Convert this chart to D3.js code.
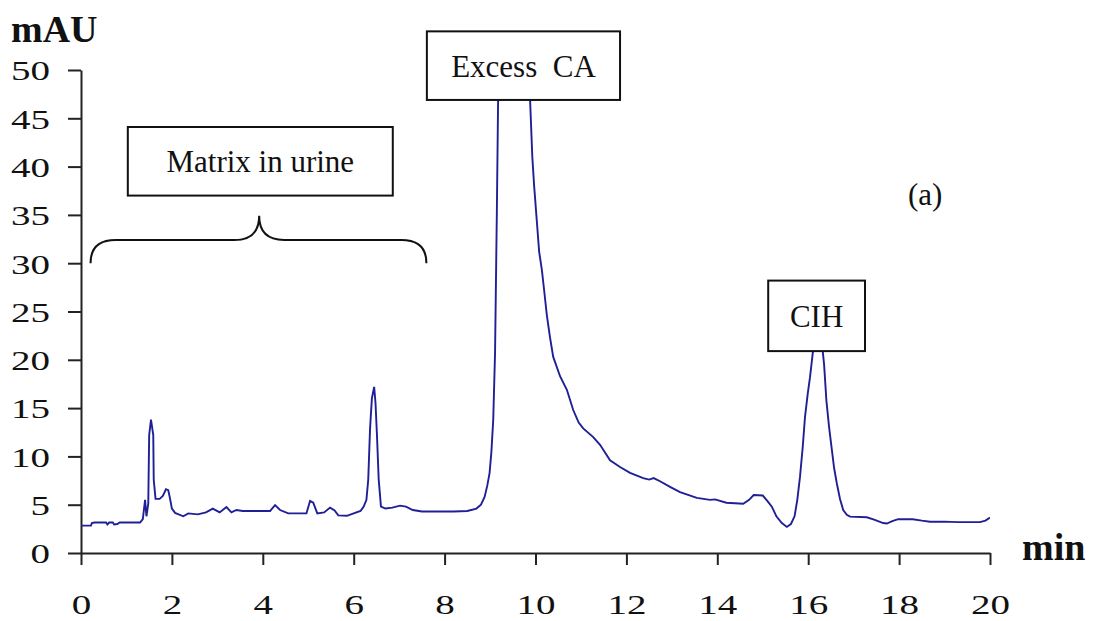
<!DOCTYPE html>
<html>
<head>
<meta charset="utf-8">
<script src="https://cdn.jsdelivr.net/npm/d3@7"></script>
<style>
  body { margin: 0; background: #fff; }
  svg { display: block; font-family: "Liberation Serif", "Times New Roman", serif; }
  .pre { white-space: pre; }
</style>
</head>
<body>
<div id="chart"></div>
<script>
// retention time (min) and absorbance (mAU)
const times = [
  0.00, 0.22, 0.24, 0.30, 0.55, 0.58, 0.62, 0.70, 0.73, 0.80, 0.85, 1.30, 1.36, 1.41, 1.44, 1.48,
  1.50, 1.54, 1.59, 1.60, 1.64, 1.73, 1.80, 1.87, 1.92, 1.96, 2.00, 2.07, 2.25, 2.36, 2.57, 2.75,
  2.90, 3.05, 3.20, 3.31, 3.42, 3.56, 4.16, 4.27, 4.38, 4.56, 4.96, 5.04, 5.11, 5.20, 5.35, 5.48,
  5.58, 5.66, 5.85, 6.00, 6.15, 6.22, 6.28, 6.32, 6.36, 6.40, 6.45, 6.48, 6.51, 6.55, 6.60, 6.70,
  6.85, 7.02, 7.15, 7.30, 7.50, 8.20, 8.50, 8.70, 8.80, 8.88, 8.94, 8.99, 9.03, 9.07, 9.11, 9.15,
  9.18, 9.22, 9.50, 9.84, 9.88, 9.93, 9.97, 10.03, 10.08, 10.14, 10.19, 10.25, 10.32, 10.39, 10.54, 10.69,
  10.83, 10.95, 11.05, 11.27, 11.42, 11.64, 11.86, 12.08, 12.37, 12.50, 12.60, 12.75, 12.96, 13.18, 13.55, 13.84,
  13.95, 14.20, 14.57, 14.70, 14.80, 15.00, 15.10, 15.20, 15.30, 15.42, 15.53, 15.62, 15.70, 15.76, 15.82, 15.88,
  15.93, 15.99, 16.04, 16.10, 16.16, 16.22, 16.30, 16.35, 16.40, 16.46, 16.52, 16.57, 16.63, 16.70, 16.77, 16.85,
  16.92, 17.29, 17.45, 17.65, 17.73, 17.85, 17.98, 18.30, 18.50, 18.68, 19.00, 19.30, 19.78, 19.90, 20.00
];
const absorbance = [
  2.83, 2.83, 3.10, 3.15, 3.15, 2.95, 3.15, 3.15, 2.95, 3.00, 3.15, 3.15, 3.50, 5.50, 3.80, 5.10,
  12.2, 13.8, 12.2, 7.60, 5.60, 5.60, 5.90, 6.60, 6.50, 5.60, 4.60, 4.15, 3.80, 4.10, 4.00, 4.20,
  4.60, 4.20, 4.75, 4.20, 4.45, 4.35, 4.35, 4.95, 4.45, 4.10, 4.10, 5.40, 5.20, 4.10, 4.20, 4.70,
  4.40, 3.90, 3.85, 4.10, 4.35, 4.80, 5.50, 7.60, 12.9, 16.0, 17.2, 15.5, 12.4, 7.60, 4.80, 4.60,
  4.70, 4.90, 4.80, 4.45, 4.30, 4.30, 4.35, 4.60, 5.00, 5.80, 7.00, 8.30, 10.5, 13.8, 20.7, 35.5,
  48.0, 65.0, 85.0, 60.0, 47.0, 41.0, 38.0, 34.3, 31.2, 29.3, 27.2, 24.6, 22.3, 20.3, 18.3, 16.9,
  14.8, 13.5, 12.9, 12.0, 11.2, 9.60, 8.90, 8.30, 7.75, 7.60, 7.75, 7.40, 6.85, 6.30, 5.70, 5.50,
  5.55, 5.20, 5.10, 5.50, 6.00, 5.95, 5.40, 4.80, 3.80, 3.10, 2.70, 3.00, 3.80, 5.50, 7.90, 11.0,
  14.1, 16.5, 18.2, 20.7, 22.5, 23.0, 21.8, 19.5, 15.8, 13.0, 10.7, 8.80, 7.20, 5.60, 4.45, 3.95,
  3.76, 3.70, 3.45, 3.10, 3.05, 3.30, 3.50, 3.50, 3.35, 3.24, 3.25, 3.20, 3.20, 3.35, 3.66
];
const xTicks = [0, 2, 4, 6, 8, 10, 12, 14, 16, 18, 20];
const yTicks = [0, 5, 10, 15, 20, 25, 30, 35, 40, 45, 50];

// boxed labels, in data units
const labels = [
  { text: "Matrix in urine", x0: 1.03, x1: 6.86, y0: 37.0, y1: 44.1 },
  { text: "Excess  CA",      x0: 7.61, x1: 11.86, y0: 46.9, y1: 54.0 },
  { text: "CIH",             x0: 15.12, x1: 17.25, y0: 20.9, y1: 28.2 }
];

const width = 1094, height = 621;
const margin = { top: 70, right: 104, bottom: 68, left: 81 };

const x = d3.scaleLinear().domain([0, 20]).range([margin.left, width - margin.right]);
const y = d3.scaleLinear().domain([0, 50]).range([height - margin.bottom, margin.top]);

const svg = d3.select("#chart").append("svg")
  .attr("width", width)
  .attr("height", height);

svg.append("clipPath").attr("id", "plot")
  .append("rect")
  .attr("x", x(0)).attr("y", y(50))
  .attr("width", x(20) - x(0)).attr("height", y(0) - y(50));

// axes
const yAxis = svg.append("g")
  .attr("transform", `translate(${x(0)},0)`)
  .call(d3.axisLeft(y).tickValues(yTicks).tickSize(13).tickSizeOuter(0).tickPadding(18));
const xAxis = svg.append("g")
  .attr("transform", `translate(0,${y(0)})`)
  .call(d3.axisBottom(x).tickValues(xTicks).tickSize(12).tickSizeOuter(0));

[yAxis, xAxis].forEach(g => {
  g.select(".domain").attr("stroke", "#222").attr("stroke-width", 2);
  g.selectAll(".tick line").attr("stroke", "#222").attr("stroke-width", 2);
  g.selectAll(".tick text")
    .attr("fill", "#111")
    .attr("font-family", "Liberation Serif, Times New Roman, serif")
    .attr("font-size", 28)
    // the original labels are drawn wide
    .attr("textLength", function() { return this.textContent.length * 19.5; })
    .attr("lengthAdjust", "spacingAndGlyphs");
});
yAxis.selectAll(".tick text").attr("x", -31).attr("dy", "0.35em");
xAxis.selectAll(".tick text").attr("y", 61).attr("dy", 0);

svg.append("text")
  .attr("x", 11).attr("y", 42)
  .attr("font-size", 38).attr("font-weight", "bold").attr("fill", "#111")
  .text("mAU");
svg.append("text")
  .attr("x", 1022).attr("y", 560)
  .attr("font-size", 38).attr("font-weight", "bold").attr("fill", "#111")
  .text("min");

// trace
const line = d3.line()
  .x((d, i) => x(times[i]))
  .y(d => y(d));

svg.append("path")
  .datum(absorbance)
  .attr("clip-path", "url(#plot)")
  .attr("fill", "none")
  .attr("stroke", "#1f1f96")
  .attr("stroke-width", 1.9)
  .attr("d", line);

// brace under the matrix label
const bx0 = x(0.21), bx1 = x(7.6), bm = x(3.92);
const bEnd = y(30.0), bMid = y(32.4), bTip = y(34.9);
const r = 25;
svg.append("path")
  .attr("fill", "none").attr("stroke", "#111").attr("stroke-width", 2)
  .attr("d", `M${bx0},${bEnd} Q${bx0},${bMid} ${bx0 + r},${bMid} L${bm - r},${bMid}` +
             ` Q${bm},${bMid} ${bm},${bTip} Q${bm},${bMid} ${bm + r},${bMid}` +
             ` L${bx1 - r},${bMid} Q${bx1},${bMid} ${bx1},${bEnd}`);

// boxes
const box = svg.selectAll("g.label").data(labels).enter().append("g").attr("class", "label");
box.append("rect")
  .attr("x", d => x(d.x0)).attr("y", d => y(d.y1))
  .attr("width", d => x(d.x1) - x(d.x0)).attr("height", d => y(d.y0) - y(d.y1))
  .attr("fill", "#fff").attr("stroke", "#111").attr("stroke-width", 2);
box.append("text")
  .attr("class", "pre")
  .attr("x", d => (x(d.x0) + x(d.x1)) / 2)
  .attr("y", d => (y(d.y0) + y(d.y1)) / 2 + 11)
  .attr("text-anchor", "middle")
  .attr("font-size", 31).attr("fill", "#111")
  .text(d => d.text);

svg.append("text")
  .attr("x", 908).attr("y", 205)
  .attr("font-size", 31).attr("fill", "#111")
  .text("(a)");
</script>
</body>
</html>
